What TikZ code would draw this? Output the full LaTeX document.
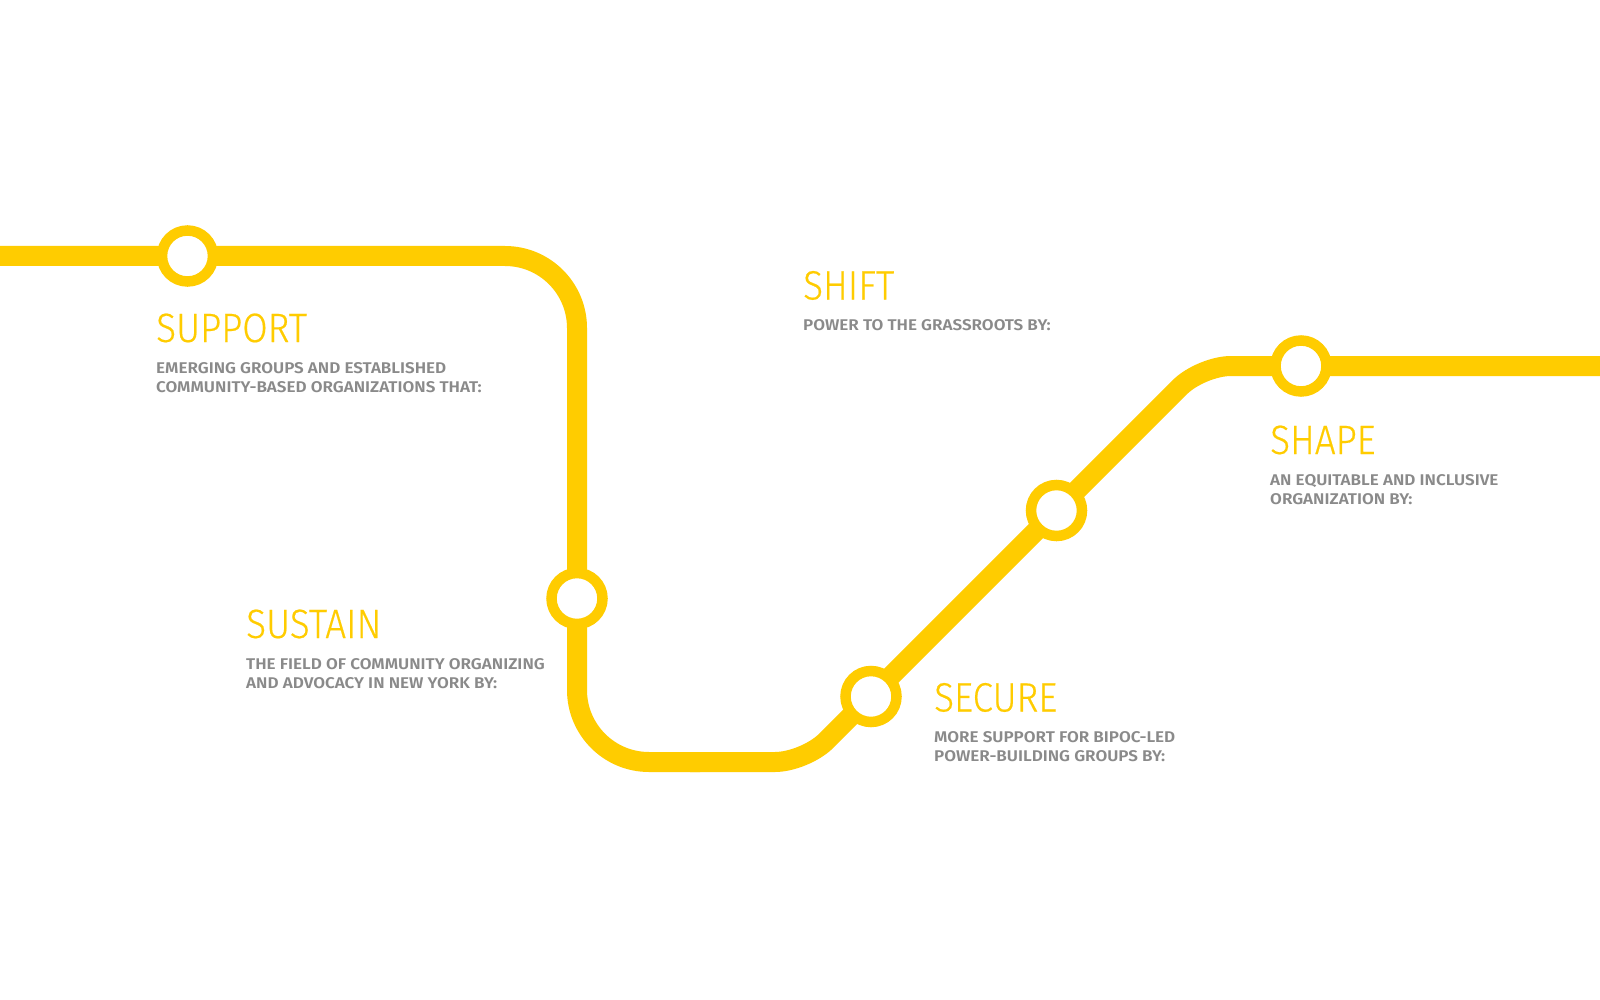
\documentclass[tikz,border=0pt]{standalone}
\usepackage{fontspec}
\newfontfamily\hfont[FakeStretch=0.9,FakeBold=0.4]{Fira Sans Light}
\newfontfamily\bfont[FakeStretch=1.1]{Fira Sans SemiBold}
\definecolor{metro}{HTML}{FFCC00}
\definecolor{txtgray}{HTML}{8A8A8A}
\tikzset{
  track/.style={draw=metro, line width=20pt, line cap=butt},
  station/.style={circle, draw=metro, fill=white, line width=10.5pt, minimum size=51pt, inner sep=0pt},
  headtxt/.style={anchor=base west, inner sep=0pt, text=metro, font=\hfont\fontsize{41}{41}\selectfont},
  bodytxt/.style={anchor=base west, inner sep=0pt, text=txtgray, font=\bfont\fontsize{15.5}{19.5}\selectfont},
}
\begin{document}
\begin{tikzpicture}[x=1pt,y=-1pt]
\fill[white] (0,0) rectangle (1600,1000);
\useasboundingbox (0,0) rectangle (1600,1000);
% track corner points
\coordinate (w) at (0,256);
\coordinate (c1) at (577,256);
\coordinate (c2) at (577,762);
\coordinate (m) at (700,762);
\coordinate (m2) at (690,762);
\coordinate (c3) at (805,762);
\coordinate (c4) at (1201,366);
\coordinate (e) at (1600,366);
\draw[track, rounded corners=72pt] (w) -- (c1) -- (c2) -- (m);
\draw[track, rounded corners=30pt] (m2) -- (c3) -- (c4) -- (e);
% stations
\node[station] (s1) at (187.5,256) {};
\node[station] (s2) at (577,598.5) {};
\node[station] (s3) at (871,696.5) {};
\node[station] (s4) at (1056.5,510.5) {};
\node[station] (s5) at (1301,366) {};
% labels
\node[headtxt] (h1) at (156,342) {SUPPORT};
\node[bodytxt] (b1a) at (156,373) {EMERGING GROUPS AND ESTABLISHED};
\node[bodytxt] (b1b) at (156,392.5) {COMMUNITY-BASED ORGANIZATIONS THAT:};
\node[headtxt] (h2) at (803,299.5) {SHIFT};
\node[bodytxt] (b2) at (803,330) {POWER TO THE GRASSROOTS BY:};
\node[headtxt] (h3) at (246,638) {SUSTAIN};
\node[bodytxt] (b3a) at (246,669) {THE FIELD OF COMMUNITY ORGANIZING};
\node[bodytxt] (b3b) at (246,688.5) {AND ADVOCACY IN NEW YORK BY:};
\node[headtxt] (h4) at (934,711.5) {SECURE};
\node[bodytxt] (b4a) at (934,742) {MORE SUPPORT FOR BIPOC-LED};
\node[bodytxt] (b4b) at (934,761.5) {POWER-BUILDING GROUPS BY:};
\node[headtxt] (h5) at (1270,454) {SHAPE};
\node[bodytxt] (b5a) at (1270,485) {AN EQUITABLE AND INCLUSIVE};
\node[bodytxt] (b5b) at (1270,504.5) {ORGANIZATION BY:};
\end{tikzpicture}
\end{document}
